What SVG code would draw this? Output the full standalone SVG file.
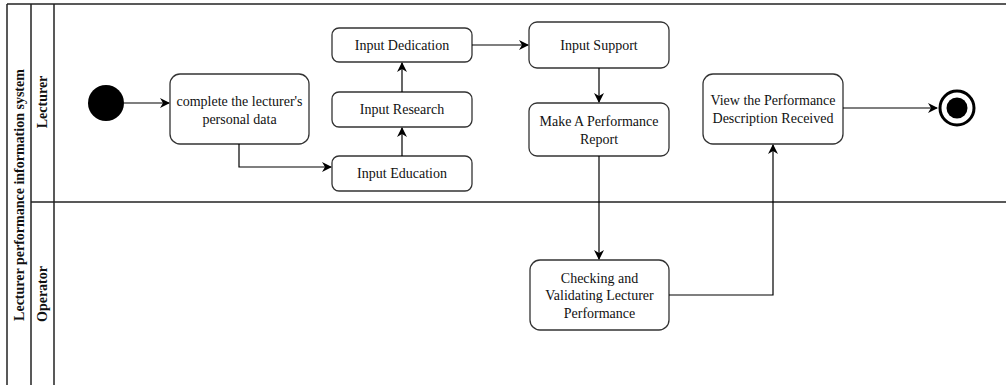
<svg xmlns="http://www.w3.org/2000/svg" width="1006" height="385" viewBox="0 0 1006 385">
<defs>
<style>
.lane{stroke:#222;stroke-width:1.5;fill:none}
.box{fill:#fff;stroke:#333;stroke-width:1.3}
.t{font-family:"Liberation Serif","Times New Roman",serif;font-size:14px;fill:#111;text-anchor:middle;dominant-baseline:central}
.h{font-family:"Liberation Serif","Times New Roman",serif;font-size:14px;font-weight:bold;fill:#111;text-anchor:middle;dominant-baseline:central}
.c{stroke:#000;stroke-width:1.2;fill:none;marker-end:url(#arr)}
</style>
<marker id="arr" viewBox="0 0 10 10" refX="9" refY="5" markerWidth="10" markerHeight="10" markerUnits="userSpaceOnUse" orient="auto">
<path d="M0,0 L10,5 L0,10 L3,5 Z" fill="#000"/>
</marker>
</defs>
<rect width="1006" height="385" fill="#fff"/>
<g id="pool">
<line class="lane" x1="7" y1="4" x2="1006" y2="4"/>
<line class="lane" x1="7" y1="4" x2="7" y2="385"/>
<line class="lane" x1="31" y1="4" x2="31" y2="385"/>
<line class="lane" x1="54" y1="4" x2="54" y2="385"/>
<line class="lane" x1="31" y1="202" x2="1006" y2="202"/>
<text class="h" transform="translate(19,195) rotate(-90)">Lecturer performance information system</text>
<text class="h" transform="translate(42.5,102) rotate(-90)">Lecturer</text>
<text class="h" transform="translate(42.5,294) rotate(-90)">Operator</text>
</g>
<g id="start"><circle cx="106" cy="103" r="18" fill="#000"/></g>
<g id="complete"><rect class="box" x="170" y="74" width="139" height="70" rx="10"/><text class="t" x="239.5" y="101">complete the lecturer's</text><text class="t" x="239.5" y="119">personal data</text></g>
<g id="education"><rect class="box" x="332" y="156" width="140" height="35" rx="7"/><text class="t" x="402" y="173.5">Input Education</text></g>
<g id="research"><rect class="box" x="332" y="92" width="140" height="35" rx="7"/><text class="t" x="402" y="109.5">Input Research</text></g>
<g id="dedication"><rect class="box" x="332" y="28" width="140" height="34" rx="7"/><text class="t" x="402" y="45">Input Dedication</text></g>
<g id="support"><rect class="box" x="529" y="22" width="140" height="46" rx="8"/><text class="t" x="599" y="45">Input Support</text></g>
<g id="report"><rect class="box" x="529" y="103" width="140" height="53" rx="8"/><text class="t" x="599" y="121">Make A Performance</text><text class="t" x="599" y="139">Report</text></g>
<g id="checking"><rect class="box" x="530" y="260" width="139" height="70" rx="10"/><text class="t" x="599.5" y="278">Checking and</text><text class="t" x="599.5" y="295.5">Validating Lecturer</text><text class="t" x="599.5" y="313">Performance</text></g>
<g id="view"><rect class="box" x="703" y="74" width="140" height="70" rx="10"/><text class="t" x="773" y="100">View the Performance</text><text class="t" x="773" y="118">Description Received</text></g>
<g id="end"><circle cx="957" cy="108" r="17" fill="#fff" stroke="#000" stroke-width="3"/><circle cx="957" cy="108" r="10.5" fill="#000"/></g>
<g id="connectors">
<path class="c" d="M124,103 L169,103"/>
<path class="c" d="M239,144 L239,167 L331,167"/>
<path class="c" d="M402,156 L402,128"/>
<path class="c" d="M402,92 L402,63"/>
<path class="c" d="M472,45 L528,45"/>
<path class="c" d="M599,68 L599,102"/>
<path class="c" d="M599,156 L599,259"/>
<path class="c" d="M669,295 L773,295 L773,145"/>
<path class="c" d="M843,108 L937,108"/>
</g>
</svg>
